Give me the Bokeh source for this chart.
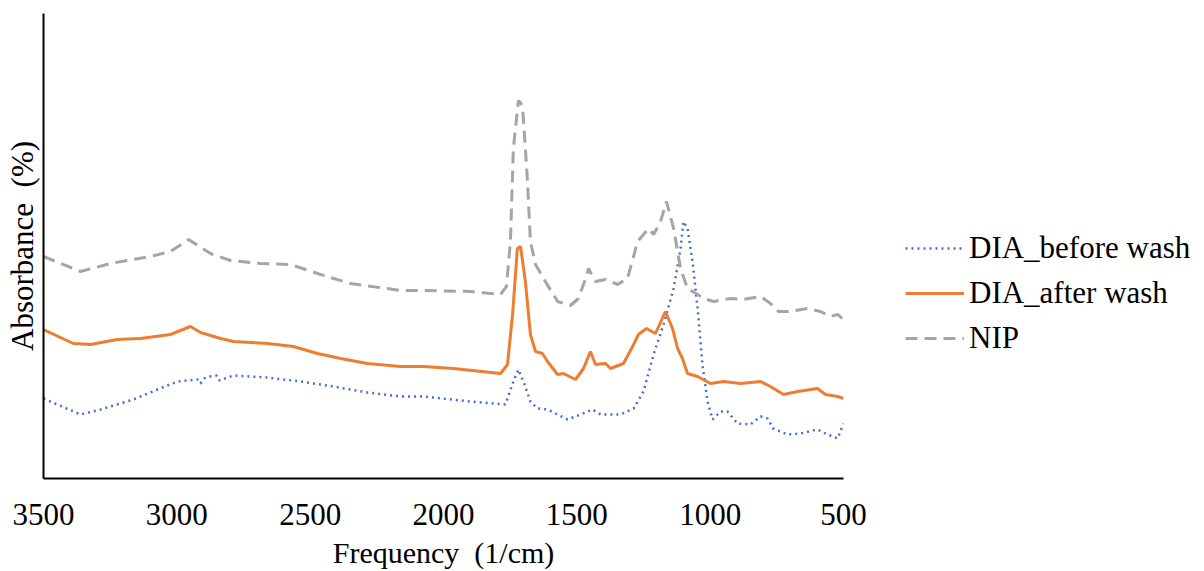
from bokeh.plotting import figure
from bokeh.models import Range1d, FixedTicker, Legend, LegendItem
from bokeh.embed import file_html
from bokeh.resources import INLINE

# ---- data ----
before_freq = [3500, 3361, 3286, 3163, 3073, 2998, 2923, 2911, 2900, 2874, 2850, 2840, 2788, 2660,
               2536, 2413, 2285, 2161, 2075, 1899, 1768, 1738, 1719, 1700, 1674, 1648, 1610, 1535,
               1486, 1441, 1411, 1336, 1287, 1250, 1212, 1175, 1137, 1111, 1100, 1085, 1066, 1047,
               1029, 1010, 991, 961, 935, 898, 849, 811, 785, 763, 710, 661, 598, 560, 522, 500]
before_abs = [16.0, 12.8, 13.8, 15.8, 17.8, 19.4, 19.8, 19.0, 20.0, 20.4, 20.6, 19.6, 20.6, 20.2,
              19.4, 18.4, 17.2, 16.4, 16.4, 15.4, 14.8, 19.4, 21.8, 19.4, 15.4, 14.0, 13.8, 11.8,
              12.8, 13.8, 12.8, 12.8, 14.0, 17.4, 24.8, 30.8, 38.0, 46.0, 51.4, 50.0, 43.4, 34.0,
              22.8, 15.4, 11.8, 13.4, 13.4, 11.0, 10.8, 12.4, 12.0, 10.0, 8.8, 9.0, 9.8, 8.8, 8.0, 11.0]

after_freq = [3500, 3388, 3324, 3223, 3136, 3024, 2949, 2911, 2836, 2788, 2660, 2563, 2473, 2386,
              2285, 2161, 2075, 1963, 1786, 1760, 1741, 1723, 1711, 1693, 1674, 1655, 1629, 1610,
              1572, 1550, 1505, 1475, 1449, 1430, 1392, 1374, 1325, 1287, 1269, 1239, 1205, 1168,
              1141, 1122, 1104, 1085, 1047, 999, 950, 886, 811, 774, 725, 672, 598, 567, 522, 500]
after_abs = [29.8, 27.0, 26.8, 27.8, 28.0, 28.8, 30.4, 29.2, 28.0, 27.4, 27.0, 26.4, 25.0, 24.0,
             23.0, 22.4, 22.4, 22.0, 21.0, 22.8, 32.8, 46.0, 46.4, 39.4, 28.8, 25.4, 25.0, 23.4,
             20.8, 21.0, 19.8, 22.0, 25.4, 22.8, 23.0, 22.0, 23.0, 26.8, 28.8, 30.0, 29.0, 33.4,
             30.0, 26.0, 24.0, 21.0, 20.4, 19.0, 19.4, 19.0, 19.4, 18.4, 16.8, 17.4, 18.0, 16.8, 16.4, 16.0]

nip_freq = [3500, 3361, 3249, 3099, 3024, 2956, 2874, 2799, 2686, 2574, 2461, 2349, 2161, 2075,
            1899, 1786, 1764, 1749, 1738, 1719, 1704, 1693, 1685, 1674, 1655, 1618, 1572, 1524,
            1494, 1471, 1456, 1441, 1430, 1392, 1347, 1310, 1272, 1231, 1212, 1186, 1164, 1137,
            1111, 1085, 1047, 1025, 987, 924, 875, 811, 774, 744, 699, 635, 586, 549, 522, 504]
nip_abs = [44.4, 41.4, 43.0, 44.4, 45.4, 47.8, 45.0, 43.6, 43.0, 42.8, 40.8, 39.0, 37.6, 37.6,
           37.4, 36.8, 38.4, 47.4, 66.0, 75.6, 74.6, 66.0, 59.4, 47.4, 42.8, 39.4, 35.4, 34.6,
           36.0, 39.4, 42.0, 40.4, 39.4, 39.8, 38.8, 40.0, 47.4, 50.0, 48.8, 51.4, 55.4, 50.0,
           42.0, 38.0, 36.8, 36.0, 35.4, 36.0, 35.8, 36.4, 35.0, 33.4, 33.4, 34.0, 33.4, 32.4, 32.8, 32.0]

x_ticks = [3500, 3000, 2500, 2000, 1500, 1000, 500]
series_names = ["DIA_before wash", "DIA_after wash", "NIP"]

FONT = "Liberation Serif"

p = figure(frame_width=800, frame_height=465, min_border_left=43, min_border_top=13,
           min_border_right=340, min_border_bottom=76,
           x_range=Range1d(3500, 500), y_range=Range1d(0, 93),
           output_backend="svg", toolbar_location=None, tools="")
p.outline_line_color = None
p.xgrid.visible = False
p.ygrid.visible = False
p.background_fill_color = "white"
p.border_fill_color = "white"

r1 = p.line(before_freq, before_abs, line_color="#4472C4", line_width=2.5, line_dash="2 4")
r2 = p.line(after_freq, after_abs, line_color="#ED7D31", line_width=3)
r3 = p.line(nip_freq, nip_abs, line_color="#A5A5A5", line_width=3, line_dash="12 7")

xa = p.xaxis[0]
xa.ticker = FixedTicker(ticks=x_ticks)
xa.axis_line_color = "black"
xa.axis_line_width = 2
xa.major_tick_line_color = None
xa.minor_tick_line_color = None
xa.major_tick_out = 0
xa.major_tick_in = 0
xa.major_label_standoff = 25
xa.major_label_text_font = FONT
xa.major_label_text_font_size = "31px"
xa.major_label_text_color = "black"
xa.axis_label = "Frequency\u00a0\u00a0(1/cm)"
xa.axis_label_text_font = FONT
xa.axis_label_text_font_size = "30px"
xa.axis_label_text_font_style = "normal"
xa.axis_label_text_color = "black"
xa.axis_label_standoff = 8

ya = p.yaxis[0]
ya.ticker = FixedTicker(ticks=[])
ya.axis_line_color = "black"
ya.axis_line_width = 2
ya.major_tick_line_color = None
ya.minor_tick_line_color = None
ya.major_tick_out = 0
ya.major_tick_in = 0
ya.major_label_standoff = 0
ya.major_label_text_font_size = "0px"
ya.axis_label = "Absorbance\u00a0\u00a0(%)"
ya.axis_label_text_font = FONT
ya.axis_label_text_font_size = "31px"
ya.axis_label_text_font_style = "normal"
ya.axis_label_text_color = "black"
ya.axis_label_standoff = 4

legend = Legend(items=[LegendItem(label=series_names[0], renderers=[r1]),
                       LegendItem(label=series_names[1], renderers=[r2]),
                       LegendItem(label=series_names[2], renderers=[r3])],
                location=(62, 122), orientation="vertical")
legend.border_line_color = None
legend.background_fill_alpha = 0
legend.padding = 0
legend.margin = 0
legend.glyph_width = 59
legend.glyph_height = 20
legend.label_standoff = 5
legend.spacing = 9
legend.label_text_font = FONT
legend.label_text_font_size = "31px"
legend.label_text_color = "black"
p.add_layout(legend, "right")

open("out.html", "w").write(file_html(p, INLINE))
